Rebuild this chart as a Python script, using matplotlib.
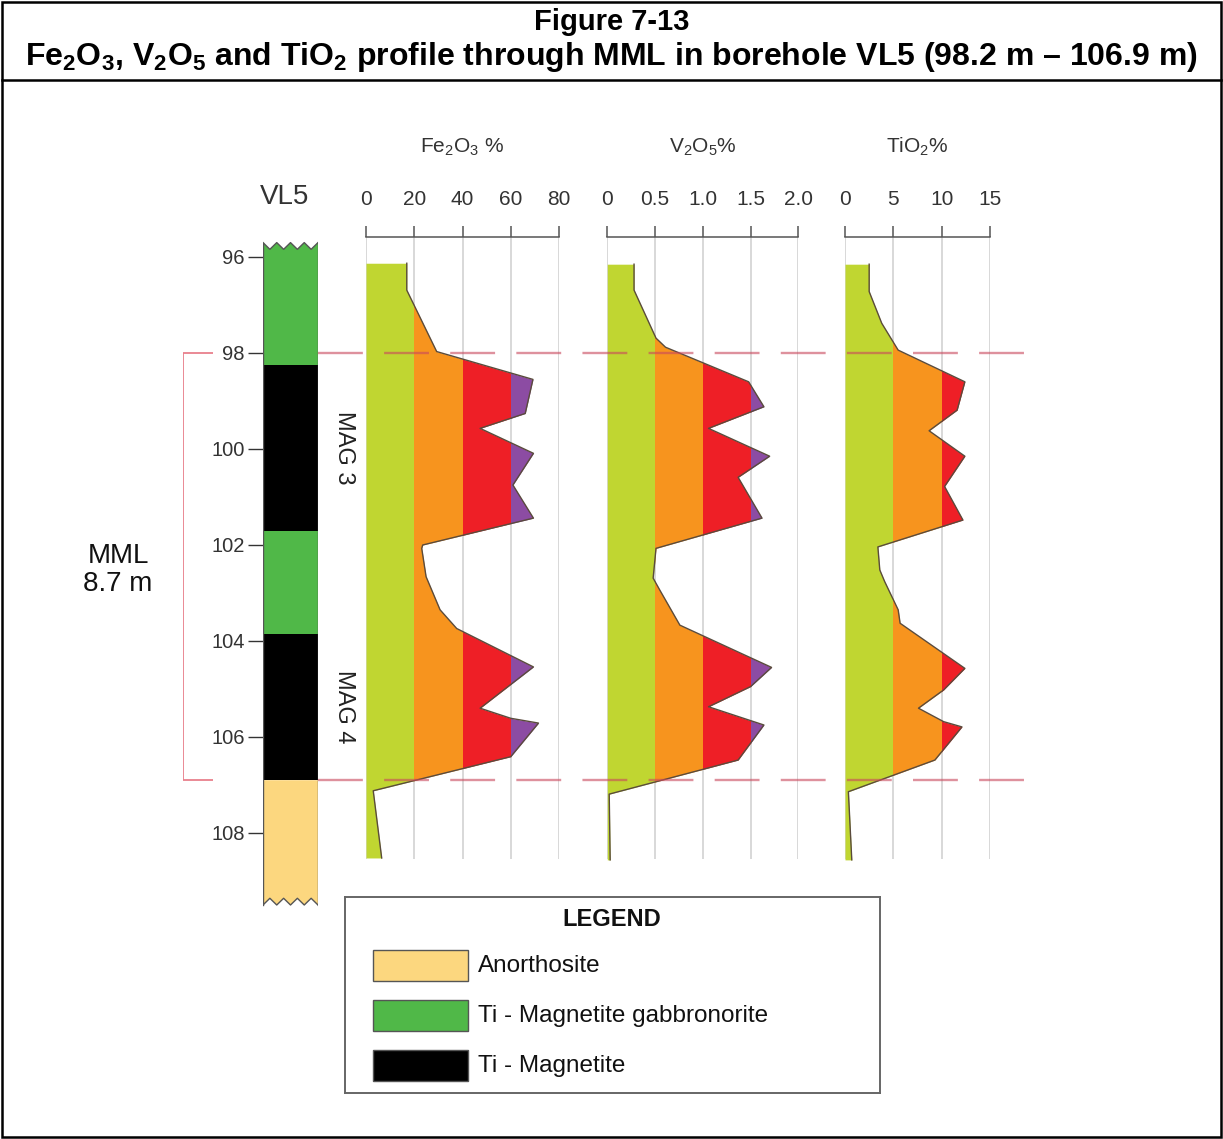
import numpy as np
import matplotlib
matplotlib.use("Agg")
import matplotlib.pyplot as plt
from matplotlib.patches import Rectangle, Polygon

plt.rcParams['font.family'] = ['Liberation Sans', 'DejaVu Sans']
plt.rcParams['mathtext.fontset'] = 'custom'
plt.rcParams['mathtext.rm'] = 'Liberation Sans'
plt.rcParams['mathtext.it'] = 'Liberation Sans:italic'
plt.rcParams['mathtext.bf'] = 'Liberation Sans:bold'

# ---------------- data ----------------
# borehole log units (depth in m)
unit_top = [95.7, 98.25, 101.7, 103.85, 106.9]
unit_base = [98.25, 101.7, 103.85, 106.9, 109.5]
unit_rock = ["Ti - Magnetite gabbronorite", "Ti - Magnetite",
             "Ti - Magnetite gabbronorite", "Ti - Magnetite", "Anorthosite"]
mag_names = ["MAG 3", "MAG 4"]

depth_ticks = [96, 98, 100, 102, 104, 106, 108]
mml_top, mml_base = 98.0, 106.9

# Fe2O3 %
fe_depth = [96.13, 96.69, 97.97, 98.55, 99.26, 99.57, 100.09, 100.75, 101.44,
            102.00, 102.07, 102.66, 103.35, 103.74, 104.54, 105.40, 105.61,
            105.71, 106.41, 107.12, 108.52]
fe_pct = [16.9, 16.9, 29.3, 69.2, 66.0, 47.3, 69.4, 60.9, 69.4,
          23.5, 23.1, 24.9, 30.7, 37.6, 69.4, 47.3, 60.0,
          71.5, 60.0, 3.0, 6.5]
fe_ticks = [0, 20, 40, 60, 80]
fe_ticklabels = ["0", "20", "40", "60", "80"]

# V2O5 %
v_depth = [96.15, 96.69, 97.69, 97.88, 98.60, 99.12, 99.57, 100.15, 100.59,
           101.44, 102.07, 102.69, 102.94, 103.67, 104.55, 104.95, 105.37,
           105.75, 106.48, 107.19, 108.56]
v_pct = [0.28, 0.28, 0.51, 0.61, 1.48, 1.64, 1.06, 1.70, 1.37,
         1.62, 0.51, 0.48, 0.55, 0.76, 1.72, 1.50, 1.06,
         1.64, 1.37, 0.02, 0.03]
v_ticks = [0, 0.5, 1.0, 1.5, 2.0]
v_ticklabels = ["0", "0.5", "1.0", "1.5", "2.0"]

# TiO2 %
ti_depth = [96.15, 96.72, 97.38, 97.94, 98.60, 99.19, 99.62, 100.15, 100.78,
            101.48, 102.04, 102.52, 102.76, 103.35, 103.63, 104.57, 105.02,
            105.40, 105.68, 105.79, 106.48, 107.14, 108.56]
ti_pct = [2.5, 2.5, 3.8, 5.5, 12.4, 11.6, 8.7, 12.4, 10.3,
          12.2, 3.4, 3.6, 4.1, 5.5, 5.7, 12.4, 10.2,
          7.6, 10.2, 12.1, 9.3, 0.35, 0.7]
ti_ticks = [0, 5, 10, 15]
ti_ticklabels = ["0", "5", "10", "15"]

legend_rocks = ["Anorthosite", "Ti - Magnetite gabbronorite", "Ti - Magnetite"]

# ---------------- styling ----------------
rock_color = {"Anorthosite": "#fcd77f",
              "Ti - Magnetite gabbronorite": "#50b848",
              "Ti - Magnetite": "#000000"}
band_colors = ["#c0d631", "#f7941e", "#ee1f26", "#8c4ca3"]
grade_line = "#5a4b3c"
grid_color = "#d6d6d6"
text_color = "#222222"

W, H = 1223, 1139
fig = plt.figure(figsize=(W / 100, H / 100), dpi=100)


def box(x0, x1, y0, y1):
    """pixel box -> figure fraction rectangle"""
    return [x0 / W, 1 - y1 / H, (x1 - x0) / W, (y1 - y0) / H]


# common depth scale: 48 px per metre, 96 m at y=257
Y0, Y1 = 200, 920
D_TOP = 96 + (Y0 - 257) / 48
D_BOT = 96 + (Y1 - 257) / 48
SCALE_DEPTH = 96 + (237 - 257) / 48
GRID_BASE = 108.55

# ---------------- frame and titles ----------------
fig.add_artist(Rectangle((2 / W, 2 / H), (W - 4) / W, (H - 4) / H, transform=fig.transFigure,
                         fill=False, ec="black", lw=1.8))
fig.add_artist(plt.Line2D([2 / W, (W - 2) / W], [1 - 80 / H, 1 - 80 / H],
                          transform=fig.transFigure, color="black", lw=1.8))
fig.text(0.5, 1 - 22 / H, "Figure 7-13", ha="center", va="center",
         fontsize=21, fontweight="bold")
fig.text(0.5, 1 - 57 / H,
         r"Fe$_\mathbf{2}$O$_\mathbf{3}$, V$_\mathbf{2}$O$_\mathbf{5}$ and TiO$_\mathbf{2}$ "
         r"profile through MML in borehole VL5 (98.2 m – 106.9 m)",
         ha="center", va="center", fontsize=23, fontweight="bold")

# ---------------- lithological column ----------------
ax_s = fig.add_axes(box(263, 318, Y0, Y1))
ax_s.set_xlim(0, 1)
ax_s.set_ylim(D_BOT, D_TOP)
ax_s.patch.set_alpha(0)
for s in ax_s.spines.values():
    s.set_visible(False)
ax_s.set_xticks([])
ax_s.set_yticks(depth_ticks, [str(t) for t in depth_ticks])
ax_s.tick_params(axis="y", length=11, width=1.0, color="#333333", pad=2,
                 labelsize=14.5, labelcolor="#333333")

zx = np.linspace(0, 1, 9)
amp = 0.14
n_units = len(unit_top)
for i, (top, base, rock) in enumerate(zip(unit_top, unit_base, unit_rock)):
    if i == 0:
        top_edge = top + amp * (np.arange(9) % 2)
    else:
        top_edge = np.full(9, top)
    if i == n_units - 1:
        base_edge = base - amp * (np.arange(9) % 2)
    else:
        base_edge = np.full(9, base)
    verts = list(zip(zx, top_edge)) + list(zip(zx[::-1], base_edge[::-1]))
    ax_s.add_patch(Polygon(verts, closed=True, fc=rock_color[rock], ec="none", zorder=2))
    if i == 0:
        ax_s.plot(zx, top_edge, color="#555555", lw=1.0, zorder=3)
    if i == n_units - 1:
        ax_s.plot(zx, base_edge, color="#555555", lw=1.0, zorder=3)
ax_s.plot([0, 0], [unit_top[0], unit_base[-1]], color="#555555", lw=1.0, zorder=3)
ax_s.plot([1, 1], [unit_top[0], unit_base[-1]], color="#555555", lw=1.0, zorder=3)

# magnetite layer names beside the log
mag_units = [(t, b) for t, b, r in zip(unit_top, unit_base, unit_rock) if r == "Ti - Magnetite"]
for name, (t, b) in zip(mag_names, mag_units):
    ax_s.text(1.47, (t + b) / 2, name, rotation=270, ha="center", va="center",
              fontsize=17, color=text_color, clip_on=False)

fig.text(285 / W, 1 - 197 / H, "VL5", ha="center", va="center", fontsize=20, color="#333333")

# MML bracket
ax_b = fig.add_axes(box(183, 213, Y0, Y1))
ax_b.set_xlim(0, 1)
ax_b.set_ylim(D_BOT, D_TOP)
ax_b.axis("off")
ax_b.plot([1, 0, 0, 1], [mml_top, mml_top, mml_base, mml_base], color="#e8808c", lw=1.3)
fig.text(118 / W, 1 - 570 / H, "MML\n8.7 m", ha="center", va="center",
         fontsize=20, linespacing=1.1, color="#111111")


# ---------------- grade profiles ----------------
def profile(x0, x1, vmax, ticks, ticklabels, cut, depth, vals, header):
    ax = fig.add_axes(box(x0, x1, Y0, Y1))
    ax.set_xlim(0, vmax)
    ax.set_ylim(D_BOT, D_TOP)
    ax.patch.set_alpha(0)
    for s in ["left", "right", "bottom"]:
        ax.spines[s].set_visible(False)
    ax.spines["top"].set_position(("data", SCALE_DEPTH))
    ax.spines["top"].set_bounds(0, vmax)
    ax.spines["top"].set_color("#555555")
    ax.spines["top"].set_linewidth(1.1)
    ax.xaxis.set_ticks_position("top")
    ax.set_xticks(ticks, ticklabels)
    ax.tick_params(axis="x", direction="out", length=8, width=1.1, color="#555555",
                   pad=12, labelsize=15, labelcolor="#333333")
    ax.set_yticks([])
    ax.vlines(ticks, SCALE_DEPTH, GRID_BASE, color=grid_color, lw=1.3, zorder=1)
    edges = list(cut) + [vmax * 10]
    for k, col in enumerate(band_colors[:len(cut)]):
        lo, hi = edges[k], edges[k + 1]
        poly = ax.fill_betweenx(depth, 0, vals, color=col, lw=0, zorder=2)
        poly.set_clip_path(Rectangle((lo, D_TOP), hi - lo, D_BOT - D_TOP, transform=ax.transData))
    ax.plot(vals, depth, color=grade_line, lw=1.0, zorder=3)
    ax.text(0.5, (Y1 - 147) / (Y1 - Y0), header, transform=ax.transAxes,
            ha="center", va="center", fontsize=15, color="#333333")
    return ax


profile(366, 559, 80, fe_ticks, fe_ticklabels, [0, 20, 40, 60],
        fe_depth, fe_pct, r"Fe$_2$O$_3$ %")
profile(607.3, 798.3, 2.0, v_ticks, v_ticklabels, [0, 0.5, 1.0, 1.5],
        v_depth, v_pct, r"V$_2$O$_5$%")
profile(845, 990, 15, ti_ticks, ti_ticklabels, [0, 5, 10],
        ti_depth, ti_pct, r"TiO$_2$%")

# MML limits across the profiles
ax_o = fig.add_axes(box(318, 1030, Y0, Y1))
ax_o.set_xlim(0, 1)
ax_o.set_ylim(D_BOT, D_TOP)
ax_o.axis("off")
ax_o.hlines([mml_top, mml_base], 0, 1, colors="#c9485c", alpha=0.6, lw=1.7,
            linestyles=(0, (19, 9)), zorder=5)

# ---------------- legend ----------------
ax_l = fig.add_axes(box(345, 880, 897, 1093))
ax_l.set_xlim(0, 535)
ax_l.set_ylim(196, 0)
ax_l.set_xticks([])
ax_l.set_yticks([])
for s in ax_l.spines.values():
    s.set_color("#666666")
    s.set_linewidth(1.4)
ax_l.text(267, 22, "LEGEND", ha="center", va="center", fontsize=17, fontweight="bold",
          color="#111111")
for i, rock in enumerate(legend_rocks):
    top = 53 + i * 50
    ax_l.add_patch(Rectangle((28, top), 95, 31, fc=rock_color[rock], ec="#555555", lw=1.0))
    ax_l.text(133, top + 16, rock, ha="left", va="center", fontsize=17.5, color="#111111")

fig.savefig("out.png", dpi=100)
